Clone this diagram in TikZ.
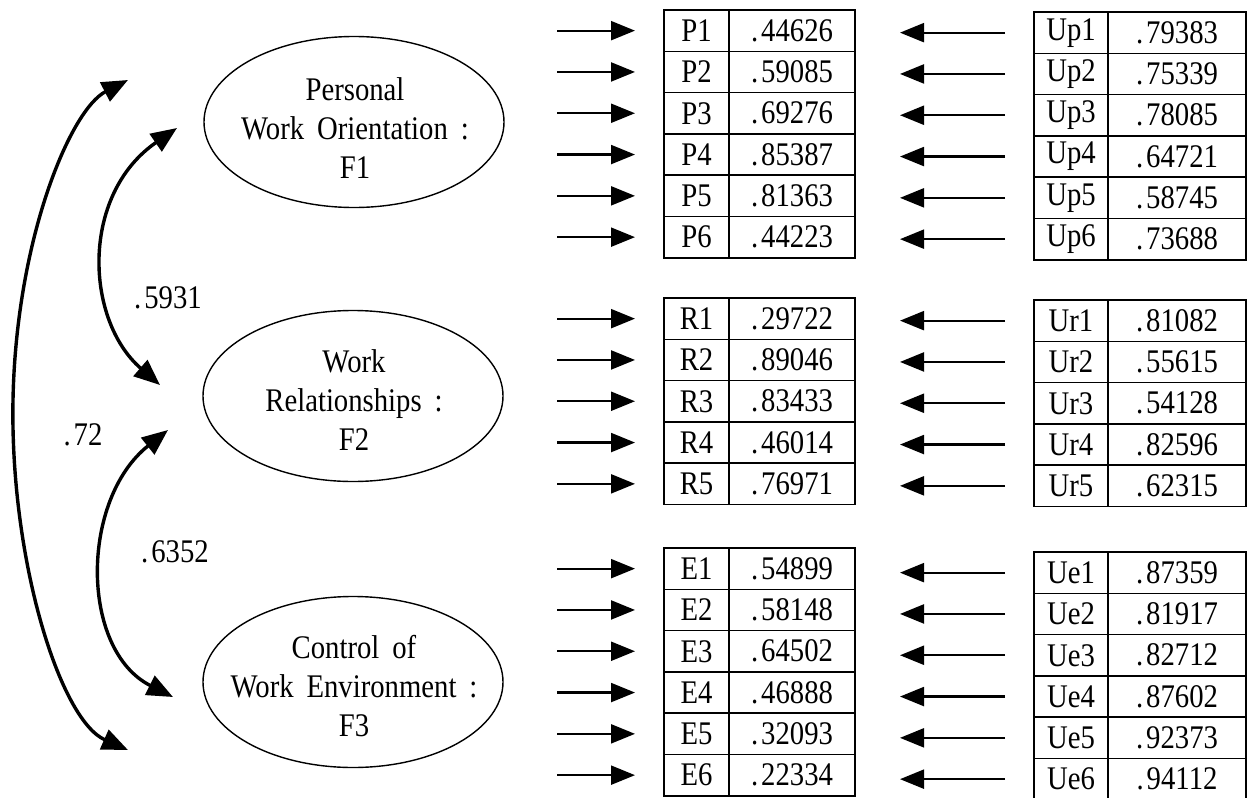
\documentclass[tikz,border=0pt]{standalone}
\usepackage{fontspec}
\setmainfont{Liberation Serif}[FakeStretch=0.87,WordSpace=1.8]
\usetikzlibrary{arrows.meta,calc,shapes.geometric}
\begin{document}
\begin{tikzpicture}[x=1pt,y=-1pt,font=\fontsize{33}{39}\selectfont]
\tikzset{
 cell/.style={draw, line width=1.5pt, minimum height=41.3pt, inner sep=0pt, outer sep=0pt, anchor=north west},
 lab/.style={cell, minimum width=65pt},
 val/.style={cell, minimum width=126pt},
 ulab/.style={cell, minimum width=74pt},
 uval/.style={cell, minimum width=138pt},
 inarrow/.style={line width=2.2pt, -{Triangle[length=24pt,width=19pt]}},
 factor/.style={draw, ellipse, line width=1.4pt, minimum width=300pt, minimum height=171pt, inner sep=0pt},
 ftext/.style={align=center, inner sep=0pt},
 corr/.style={line width=3.4pt, {Triangle[length=26pt,width=21pt]}-{Triangle[length=26pt,width=21pt]}},
}
\useasboundingbox (0,0) rectangle (1248,798);

% factor ellipses
\node[factor] (F1) at (354,122) {};
\node[factor] (F2) at (353,396) {};
\node[factor] (F3) at (353,682) {};
\node[ftext] (F1t) at ($(F1.center)+(1,6)$) {Personal\\Work Orientation :\\F1};
\node[ftext] (F2t) at ($(F2.center)+(1,4)$) {Work\\Relationships :\\F2};
\node[ftext] (F3t) at ($(F3.center)+(1,4)$) {Control of\\Work Environment :\\F3};

% correlation arrows
\coordinate (c12a) at (177,128); \coordinate (c12b) at (160,385);
\coordinate (c23a) at (168,430); \coordinate (c23b) at (173,697);
\coordinate (c13a) at (128,80);  \coordinate (c13m) at (13,400); \coordinate (c13b) at (128,750);
\draw[corr] (c12a) .. controls (80,195) and (85,320) .. (c12b);
\draw[corr] (c23a) .. controls (80,500) and (80,650) .. (c23b);
\draw[corr] (c13a) .. controls (70,110) and (16,240) .. (c13m) .. controls (10,560) and (60,720) .. (c13b);
\node (r12) at (168,298) {.\kern3pt5931};
\node (r23) at (175,552) {.\kern3pt6352};
\node (r13) at (83,435) {.\kern3pt72};

% left tables
\foreach \a/\b/\y in {P/{44626,59085,69276,85387,81363,44223}/10,
                      R/{29722,89046,83433,46014,76971}/298,
                      E/{54899,58148,64502,46888,32093,22334}/548} {
  \foreach \v [count=\i] in \b {
    \node[lab] (\a\i) at (664, \y+41.3*\i-41.3) {\a\i};
    \node[val] (\a\i-v) at (\a\i.north east) {.\kern3pt\v};
    \coordinate (\a\i-s) at ($(\a\i.west)+(-107,0)$);
    \draw[inarrow, shorten >=29pt] (\a\i-s) -- (\a\i);
  }
}

% right tables
\foreach \a/\b/\y in {Up/{79383,75339,78085,64721,58745,73688}/12,
                      Ur/{81082,55615,54128,82596,62315}/300,
                      Ue/{87359,81917,82712,87602,92373,94112}/552} {
  \foreach \v [count=\i] in \b {
    \node[ulab] (\a\i) at (1034, \y+41.3*\i-41.3) {\a\i};
    \node[uval] (\a\i-v) at (\a\i.north east) {.\kern3pt\v};
    \coordinate (\a\i-t) at ($(\a\i.west)+(-134,0)$);
    \draw[inarrow, shorten <=29pt] (\a\i) -- (\a\i-t);
  }
}
\end{tikzpicture}
\end{document}
